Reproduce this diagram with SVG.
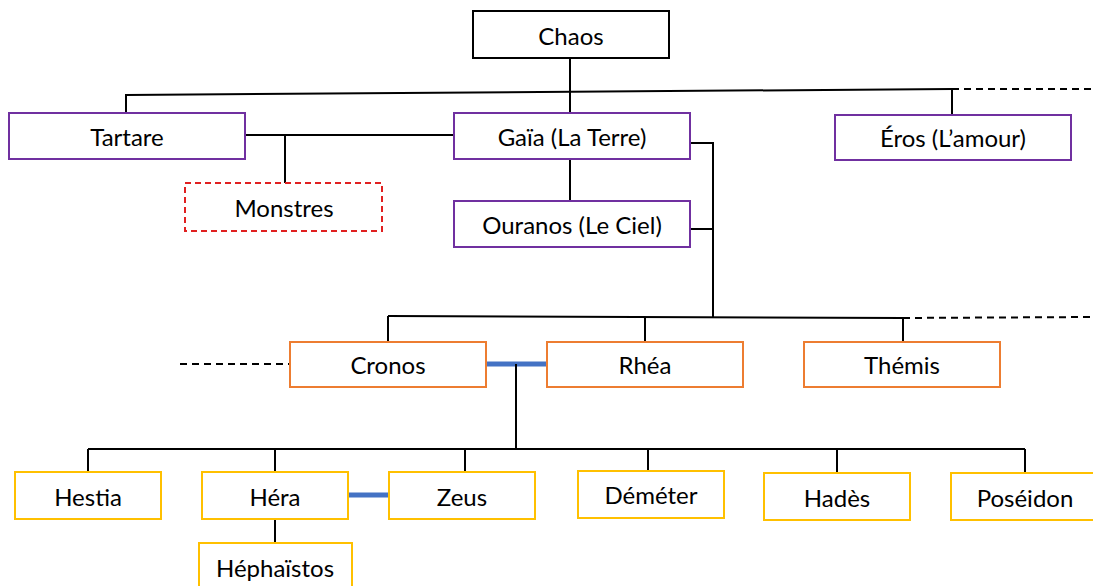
<svg xmlns="http://www.w3.org/2000/svg" width="1093" height="586" viewBox="0 0 1093 586">
<style>
rect{fill:#fff;stroke-width:2}
.k rect{stroke:#000}
.p rect{stroke:#7030A0}
.o rect{stroke:#ED7D31}
.y rect{stroke:#FFC000}
.m rect{stroke:#E02020;stroke-dasharray:6 4}
text{font-family:Lato,"Liberation Sans",sans-serif;font-size:24px;fill:#000;text-anchor:middle;dominant-baseline:central}
.c line,.c polyline{stroke:#000;stroke-width:2;fill:none}
.c .d{stroke-dasharray:7 5}
.c .b{stroke:#4472C4;stroke-width:5}
</style>
<rect x="0" y="0" width="1093" height="586" style="fill:#fff;stroke:none"/>
<g class="c" id="connectors">
<line x1="570" y1="58" x2="570" y2="113"/>
<line x1="126" y1="95" x2="952" y2="89"/>
<line class="d" x1="952" y1="89" x2="1093" y2="89"/>
<line x1="126" y1="94" x2="126" y2="113"/>
<line x1="952" y1="89" x2="952" y2="115"/>
<line x1="245" y1="135" x2="454" y2="135"/>
<line x1="285" y1="135" x2="285" y2="183"/>
<line x1="570" y1="159" x2="570" y2="201"/>
<polyline points="690,143 713,143 713,317"/>
<line x1="690" y1="229" x2="713" y2="229"/>
<line x1="388" y1="316" x2="903" y2="318"/>
<line class="d" x1="903" y1="318" x2="1093" y2="317"/>
<line x1="388" y1="316" x2="388" y2="342"/>
<line x1="645" y1="317" x2="645" y2="342"/>
<line x1="903" y1="318" x2="903" y2="342"/>
<line class="d" x1="180" y1="364" x2="290" y2="364"/>
<line class="b" x1="486" y1="364" x2="547" y2="364"/>
<line x1="516" y1="364" x2="516" y2="449"/>
<line x1="88" y1="449" x2="1025" y2="449"/>
<line x1="88" y1="449" x2="88" y2="472"/>
<line x1="275" y1="449" x2="275" y2="472"/>
<line x1="465" y1="449" x2="465" y2="472"/>
<line x1="648" y1="449" x2="648" y2="471"/>
<line x1="837" y1="449" x2="837" y2="473"/>
<line x1="1025" y1="449" x2="1025" y2="473"/>
<line class="b" x1="348" y1="495" x2="389" y2="495"/>
<line x1="275" y1="519" x2="275" y2="542"/>
</g>
<g id="chaos" class="k"><rect x="473" y="11" width="196" height="47"/><text x="571" y="35">Chaos</text></g>
<g id="tartare" class="p"><rect x="9" y="113" width="236" height="46"/><text x="127" y="136">Tartare</text></g>
<g id="gaia" class="p"><rect x="454" y="113" width="236" height="46"/><text x="572" y="136">Gaïa (La Terre)</text></g>
<g id="eros" class="p"><rect x="835" y="115" width="236" height="45"/><text x="953" y="137">Éros (L’amour)</text></g>
<g id="monstres" class="m"><rect x="185" y="183" width="197" height="48"/><text x="284" y="207">Monstres</text></g>
<g id="ouranos" class="p"><rect x="454" y="201" width="236" height="46"/><text x="572" y="224">Ouranos (Le Ciel)</text></g>
<g id="cronos" class="o"><rect x="290" y="342" width="196" height="45"/><text x="388" y="364">Cronos</text></g>
<g id="rhea" class="o"><rect x="547" y="342" width="196" height="45"/><text x="645" y="364">Rhéa</text></g>
<g id="themis" class="o"><rect x="804" y="342" width="196" height="45"/><text x="902" y="364">Thémis</text></g>
<g id="hestia" class="y"><rect x="15" y="472" width="146" height="47"/><text x="88" y="496">Hestia</text></g>
<g id="hera" class="y"><rect x="202" y="472" width="146" height="47"/><text x="275" y="496">Héra</text></g>
<g id="zeus" class="y"><rect x="389" y="472" width="146" height="47"/><text x="462" y="496">Zeus</text></g>
<g id="demeter" class="y"><rect x="578" y="471" width="146" height="47"/><text x="651" y="494">Déméter</text></g>
<g id="hades" class="y"><rect x="764" y="473" width="146" height="47"/><text x="837" y="497">Hadès</text></g>
<g id="poseidon" class="y"><rect x="951" y="473" width="146" height="47"/><text x="1025" y="497">Poséidon</text></g>
<g id="hephaistos" class="y"><rect x="199" y="543" width="153" height="48"/><text x="275" y="567">Héphaïstos</text></g>
</svg>
